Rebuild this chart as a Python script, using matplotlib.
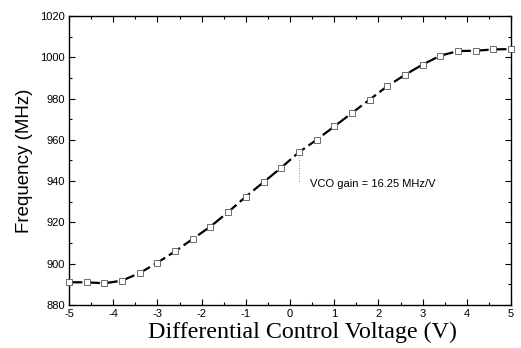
import matplotlib
matplotlib.use('Agg')
import matplotlib.pyplot as plt
from matplotlib.ticker import MultipleLocator

plt.rcParams['axes.unicode_minus'] = False

# Control voltage (V) and measured VCO frequency (MHz)
voltage = [-5.0, -4.6, -4.2, -3.8, -3.4, -3.0, -2.6, -2.2, -1.8, -1.4, -1.0, -0.6, -0.2,
           0.2, 0.6, 1.0, 1.4, 1.8, 2.2, 2.6, 3.0, 3.4, 3.8, 4.2, 4.6, 5.0]
frequency = [891.0, 891.0, 890.5, 891.8, 895.5, 900.5, 906.0, 912.0, 918.0, 925.0, 932.5, 939.5, 946.5,
             954.0, 960.0, 966.5, 973.0, 979.5, 986.0, 991.5, 996.5, 1000.8, 1003.0, 1003.2, 1003.8, 1004.0]
gain_label = 'VCO gain = 16.25 MHz/V'
gain_point = (0.2, 954.0)
gain_drop = 939.5

fig = plt.figure(figsize=(5.21, 3.48), dpi=100)
ax = fig.add_axes([0.1324, 0.1236, 0.8486, 0.8304])

ax.plot(voltage, frequency, color='black', lw=1.6, dashes=(6, 2),
        marker='s', markersize=4, markerfacecolor='white',
        markeredgecolor='#555555', markeredgewidth=0.6, clip_on=False, zorder=3)

# dotted guide from the 0.2 V point down to the annotation
ax.plot([gain_point[0], gain_point[0]], [gain_point[1], gain_drop],
        color='#888888', lw=0.7, ls=':')
ax.text(0.45, 938.5, gain_label, fontsize=8, family='Liberation Sans',
        va='center', ha='left')

ax.set_xlim(-5, 5)
ax.set_ylim(880, 1020)
ax.xaxis.set_major_locator(MultipleLocator(1))
ax.xaxis.set_minor_locator(MultipleLocator(0.5))
ax.yaxis.set_major_locator(MultipleLocator(20))
ax.yaxis.set_minor_locator(MultipleLocator(10))
ax.tick_params(which='both', direction='in', top=True, right=True, width=0.8)
ax.tick_params(which='major', length=4, labelsize=8, pad=3)
ax.tick_params(which='minor', length=2.5)
for lab in ax.get_xticklabels() + ax.get_yticklabels():
    lab.set_family('Liberation Sans')
for s in ax.spines.values():
    s.set_linewidth(1.0)

ax.set_xlabel('Differential Control Voltage (V)', family='Liberation Serif', fontsize=17.3)
ax.xaxis.set_label_coords(0.529, -0.058)
ax.set_ylabel('Frequency (MHz)', family='Liberation Sans', fontsize=13.5, labelpad=5)

fig.savefig('out.png', dpi=100)
